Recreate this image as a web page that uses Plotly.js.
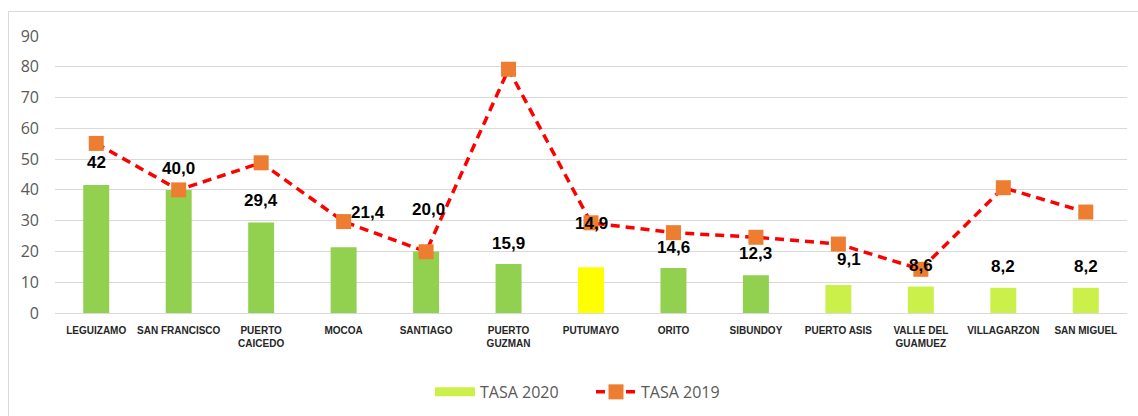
<!DOCTYPE html>
<html>
<head>
<meta charset="utf-8">
<script src="https://cdn.plot.ly/plotly-3.0.1.min.js"></script>
<style>
  html, body { margin: 0; padding: 0; background: #fff; }
  #wrap { position: relative; width: 1138px; height: 416px; overflow: hidden; }
  #frame { position: absolute; left: 8px; top: 11px; width: 1150px; height: 420px; border: 1px solid #d9d9d9; box-sizing: border-box; }
  #chart { position: absolute; left: 0; top: 0; width: 1138px; height: 416px; }
</style>
</head>
<body>
<div id="wrap">
  <div id="frame"></div>
  <div id="chart"></div>
</div>
<script>
// ---- data ----
const categories = ["LEGUIZAMO", "SAN FRANCISCO", "PUERTO<br>CAICEDO", "MOCOA", "SANTIAGO",
  "PUERTO<br>GUZMAN", "PUTUMAYO", "ORITO", "SIBUNDOY", "PUERTO ASIS",
  "VALLE DEL<br>GUAMUEZ", "VILLAGARZON", "SAN MIGUEL"];
const tasa2020 = [41.6, 40.0, 29.4, 21.4, 20.0, 15.9, 14.9, 14.6, 12.3, 9.1, 8.6, 8.2, 8.2];
const labels2020 = ["42", "40,0", "29,4", "21,4", "20,0", "15,9", "14,9", "14,6", "12,3", "9,1", "8,6", "8,2", "8,2"];
const tasa2019 = [55.1, 40.0, 48.8, 29.7, 19.9, 79.2, 29.3, 26.1, 24.6, 22.4, 14.2, 40.7, 32.8];

// ---- styling (not data) ----
const GREEN = "#92D050", YELLOW = "#FFFF00", LIGHT = "#CCF04A";
const barColors = [GREEN, GREEN, GREEN, GREEN, GREEN, GREEN, YELLOW, GREEN, GREEN, LIGHT, LIGHT, LIGHT, LIGHT];
const labelYShift = [22, 21, 22, 35, 42, 21, 44, 21, 22, 25, 21, 21, 21];
const labelXShift = [0, 0, 0, 24, 2, 0, 0, 0, 0, 11, 0, 0, 0];

const traces = [
  {
    type: "bar", x: categories, y: tasa2020, name: "TASA 2020", showlegend: false,
    marker: { color: barColors }, hoverinfo: "x+y"
  },
  {
    type: "scatter", mode: "lines", x: [categories[0]], y: [null], name: "TASA 2020",
    line: { color: LIGHT, width: 9 }, showlegend: true, hoverinfo: "skip"
  },
  {
    type: "scatter", mode: "lines+markers", x: categories, y: tasa2019, name: "TASA 2019",
    line: { color: "#FF0000", width: 3.5, dash: "9px,6px" },
    marker: { symbol: "square", size: 15, color: "#ED7D31", line: { width: 0 } }
  }
];

const annotations = categories.map((c, i) => ({
  x: c, y: tasa2020[i], text: labels2020[i], showarrow: false,
  xref: "x", yref: "y", yanchor: "middle", xanchor: "center",
  yshift: labelYShift[i], xshift: labelXShift[i],
  font: { family: "Liberation Sans, Arial, sans-serif", size: 17, color: "#000", weight: "bold" }
}));

const layout = {
  width: 1138, height: 416,
  margin: { l: 55, r: 11, t: 36, b: 103, autoexpand: false },
  paper_bgcolor: "rgba(0,0,0,0)", plot_bgcolor: "rgba(0,0,0,0)",
  barmode: "overlay", bargap: 0.685,
  showlegend: true,
  legend: {
    orientation: "h", x: 0.5, xanchor: "center", y: -0.285, yanchor: "middle",
    font: { family: "Open Sans, Liberation Sans, sans-serif", size: 16, color: "#595959" },
    traceorder: "normal", itemwidth: 40, entrywidth: 106, entrywidthmode: "pixels"
  },
  xaxis: {
    type: "category", range: [-0.5, categories.length - 0.5], autorange: false,
    showgrid: false, zeroline: false, showline: false, ticks: "",
    tickfont: { family: "Liberation Sans, Arial, sans-serif", size: 10, color: "#262626", weight: "bold" },
    ticklabelstandoff: 10, automargin: false, fixedrange: true
  },
  yaxis: {
    range: [0, 90], dtick: 10, showgrid: true, gridcolor: "#d9d9d9", gridwidth: 1,
    zeroline: true, zerolinecolor: "#d9d9d9", zerolinewidth: 1, showline: false, ticks: "",
    tickfont: { family: "Open Sans, Liberation Sans, sans-serif", size: 16, color: "#595959" },
    ticklabelstandoff: 15, automargin: false, fixedrange: true
  },
  annotations: annotations
};

Plotly.newPlot("chart", traces, layout, { displayModeBar: false, staticPlot: true });
</script>
</body>
</html>
